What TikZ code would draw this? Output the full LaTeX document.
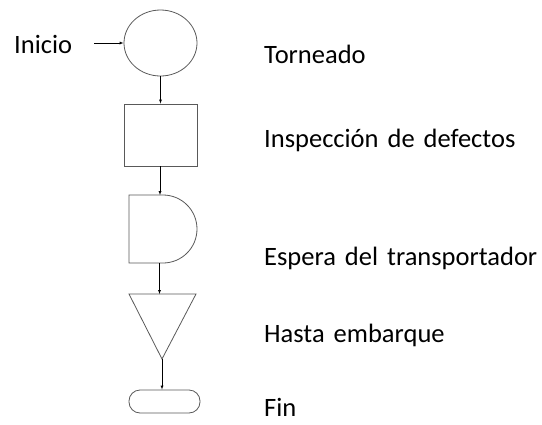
\documentclass[tikz,border=0pt]{standalone}
\usepackage{fontspec}
\setmainfont[WordSpace={1.5,1,1}]{Carlito}
\usetikzlibrary{arrows, shapes.geometric}

\begin{document}
\begin{tikzpicture}[x=1pt, y=-1pt, >=latex,
    shp/.style={draw=black!65, line width=0.8pt},
    lbl/.style={anchor=base west, inner sep=0pt, font=\fontsize{26.5}{30}\selectfont}]
    \useasboundingbox (0,0) rectangle (542,424);
    % symbols
    \node[shp, ellipse, minimum width=73pt, minimum height=66pt, inner sep=0pt] (circ) at (160.5,43) {};
    \node[shp, rectangle, minimum width=73pt, minimum height=62pt, inner sep=0pt] (sq) at (160.5,135) {};
    \draw[shp] (163,195) -- (129,195) -- (129,263) -- (163,263) arc[start angle=-90, end angle=90, radius=34pt];
    \draw[shp] (129,294) -- (196,294) -- (162,359) -- cycle;
    \node[shp, rectangle, rounded corners=11pt, minimum width=71pt, minimum height=23pt, inner sep=0pt] (fin) at (164.5,401.5) {};
    \coordinate (ini) at (94,43);
    \coordinate (dtop) at (160,195);
    \coordinate (dbot) at (159.5,263);
    \coordinate (ttop) at (159.5,294);
    \coordinate (tbot) at (162,359);
    % labels
    \node[lbl] (linicio) at (14,53) {Inicio};
    \foreach \y/\txt in {63/Torneado, 147/Inspección de defectos, 265/Espera del transportador, 342/Hasta embarque, 416/Fin}
      \node[lbl] (l\y) at (264,\y) {\txt};
    % arrows
    \draw[->] (ini) -- (circ.west);
    \draw[->] (circ.south) -- (sq.north);
    \draw[->] (sq.south -| dtop) -- (dtop);
    \draw[->] (dbot) -- (ttop);
    \draw[->] (tbot) -- (fin.north -| tbot);
\end{tikzpicture}
\end{document}
